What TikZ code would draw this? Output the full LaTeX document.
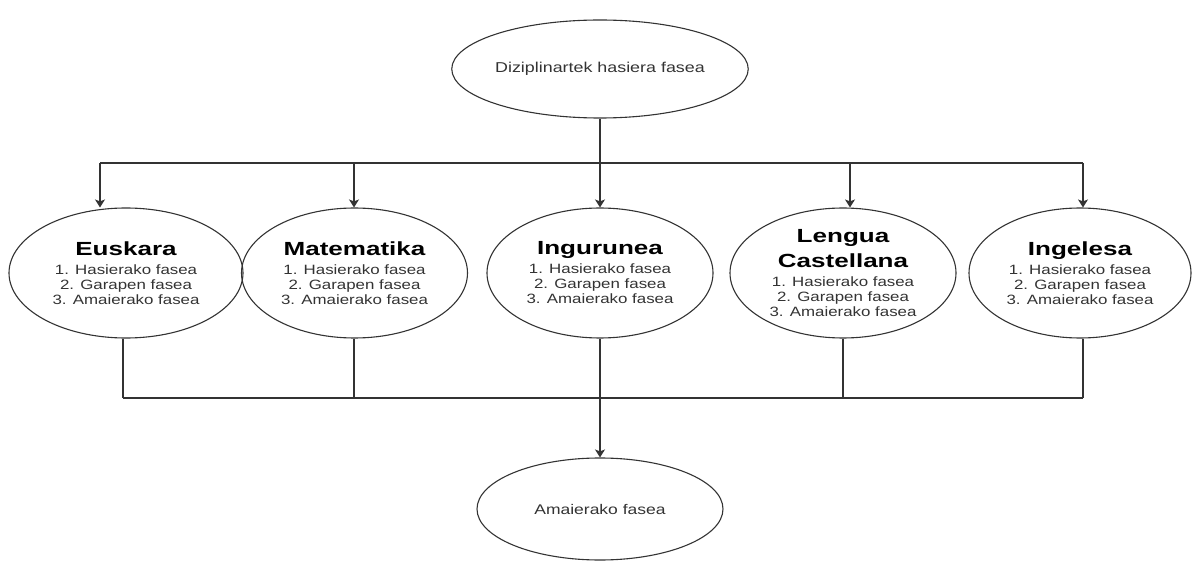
\documentclass[tikz,border=0pt]{standalone}
\usepackage{fontspec}
\usetikzlibrary{shapes.geometric,arrows.meta}
\newfontfamily\sw[FakeStretch=1.25]{Liberation Sans}
\newfontfamily\swb[FakeStretch=1.37]{Liberation Sans}
\definecolor{ln}{HTML}{333333}
\definecolor{tx}{HTML}{333333}
\newcommand{\ttl}[1]{{\swb\bfseries\color{black}\fontsize{19}{22}\selectfont #1}}
\tikzset{
  ell/.style={ellipse, draw=ln, line width=1.1pt, inner sep=0pt, align=center, text=tx},
  sub/.style={ell, minimum height=130pt, font=\sw\fontsize{13.5}{15}\selectfont},
  con/.style={draw=ln, line width=1.1pt},
  arr/.style={con, -{Stealth[length=8pt,width=10pt,inset=2pt]}}
}
\begin{document}
\begin{tikzpicture}[x=1pt,y=-1pt]
\useasboundingbox (0,0) rectangle (1195,564);
\node[ell, minimum width=244pt, minimum height=98pt, font=\sw\fontsize{14.3}{16}\selectfont] (top) at (600,69) {Diziplinartek hasiera fasea};
\node[sub, minimum width=234pt] (eus) at (126,273) {\ttl{Euskara}\\[4pt]1. Hasierako fasea\\2. Garapen fasea\\3. Amaierako fasea};
\node[sub, minimum width=226pt] (mat) at (354.5,273) {\ttl{Matematika}\\[4pt]1. Hasierako fasea\\2. Garapen fasea\\3. Amaierako fasea};
\node[sub, minimum width=226pt] (ing) at (600,273) {\ttl{Ingurunea}\\[4pt]1. Hasierako fasea\\2. Garapen fasea\\3. Amaierako fasea};
\node[sub, minimum width=226pt] (len) at (843,273) {\ttl{Lengua}\\[7pt]\ttl{Castellana}\\[4pt]1. Hasierako fasea\\2. Garapen fasea\\3. Amaierako fasea};
\node[sub, minimum width=222pt] (ingl) at (1080,273) {\ttl{Ingelesa}\\[4pt]1. Hasierako fasea\\2. Garapen fasea\\3. Amaierako fasea};
\node[ell, minimum width=246pt, minimum height=102pt, font=\sw\fontsize{14}{16}\selectfont] (bot) at (600,509) {Amaierako fasea};
% top distribution
\coordinate (t1) at (100,163);
\coordinate (t2) at (354,163);
\coordinate (t4) at (850,163);
\coordinate (t5) at (1083,163);
\draw[con] (t1) -- (t5);
\draw[arr] (top.south) -- (ing.north);
\draw[arr] (t1) -- (t1 |- eus.north);
\draw[arr] (t2) -- (t2 |- mat.north);
\draw[arr] (t4) -- (t4 |- len.north);
\draw[arr] (t5) -- (t5 |- ingl.north);
% bottom collection
\coordinate (b1) at (123,398);
\coordinate (b2) at (354,398);
\coordinate (b4) at (843,398);
\coordinate (b5) at (1083,398);
\draw[con] (b1) -- (b5);
\draw[con] (b1 |- eus.south) -- (b1);
\draw[con] (b2 |- mat.south) -- (b2);
\draw[con] (b4 |- len.south) -- (b4);
\draw[con] (b5 |- ingl.south) -- (b5);
\draw[arr] (ing.south) -- (bot.north);
\end{tikzpicture}
\end{document}
